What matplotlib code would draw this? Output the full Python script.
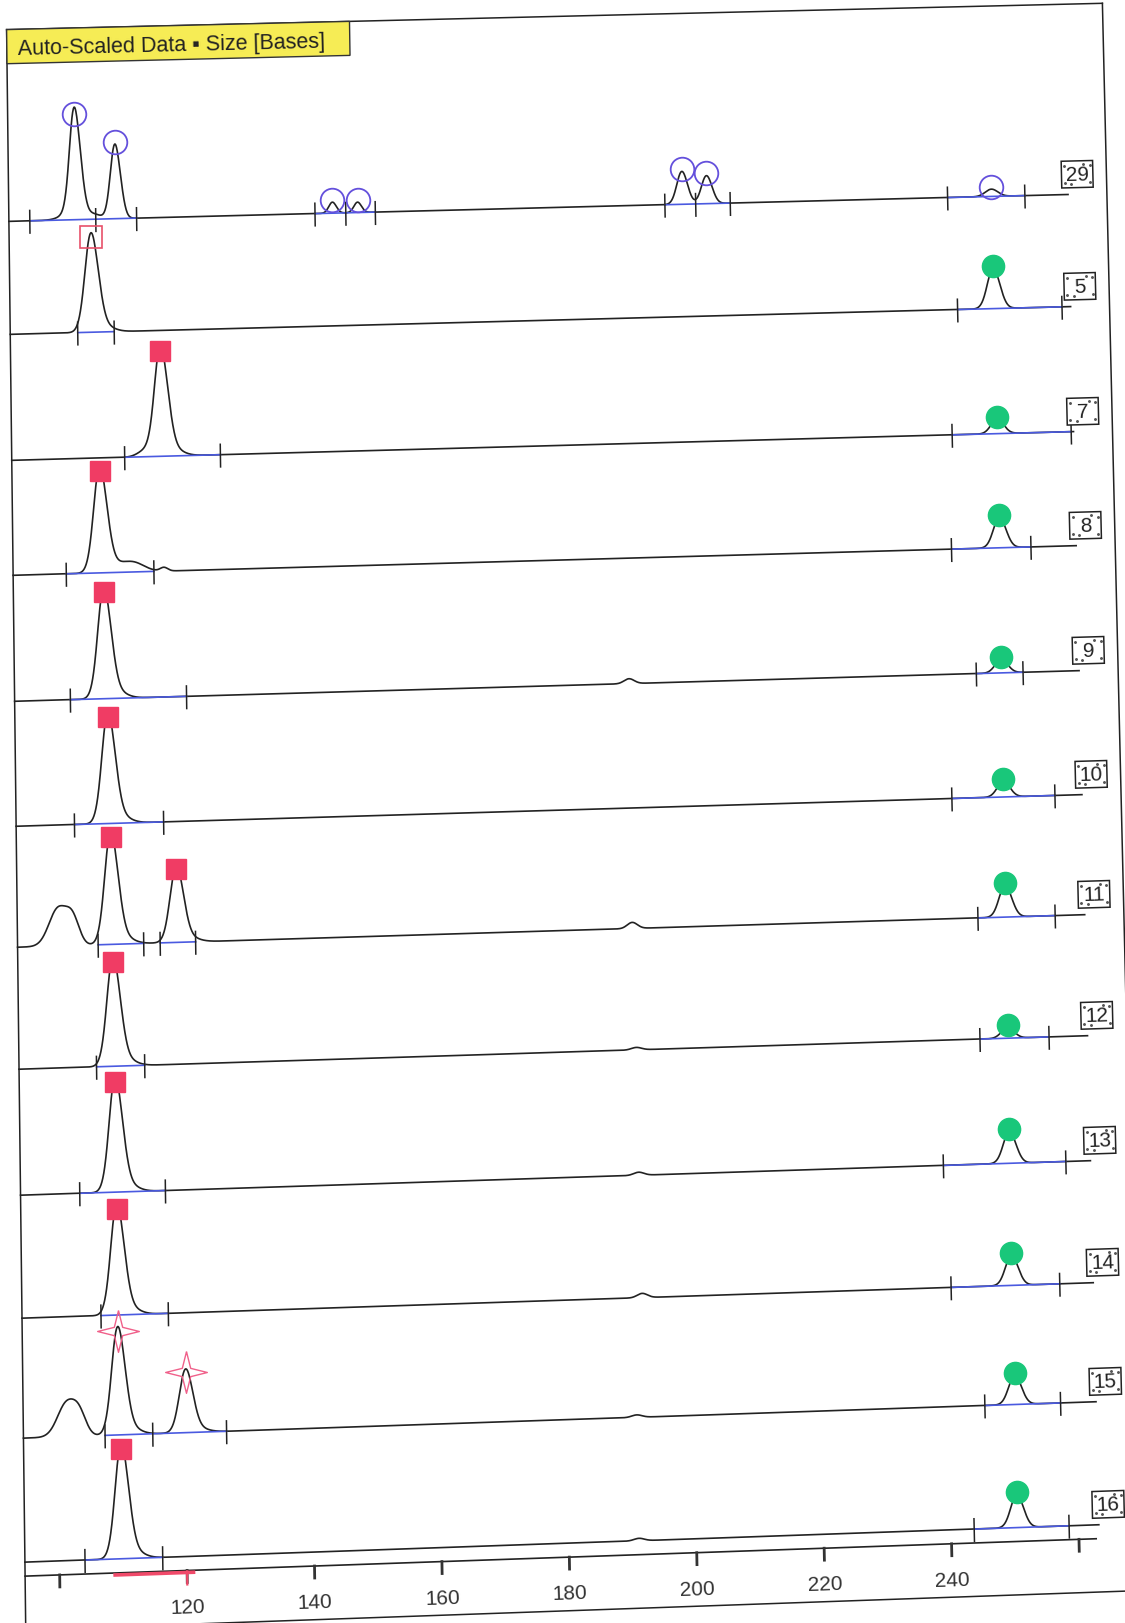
import numpy as np
import matplotlib
matplotlib.use('Agg')
import matplotlib.pyplot as plt
import matplotlib.transforms as mtransforms
from matplotlib.patches import Rectangle
from matplotlib.path import Path

W, H = 1125, 1624

# ---------------- data (sizes in bases, heights as fraction of lane spacing) ----------------
lane_labels = ["29", "5", "7", "8", "9", "10", "11", "12", "13", "14", "15", "16"]

# lane "29" = size standard, blue open circles
std_sizes = [105.2, 111.6, 146.1, 150.1, 201.8, 205.7, 251.0]
std_heights = [0.84, 0.61, 0.09, 0.085, 0.27, 0.23, 0.06]
std_widths = [0.85, 0.8, 0.6, 0.6, 0.85, 0.85, 1.0]

# red allele peaks per lane (lane 0 has none)
red_sizes = [[], [107.6], [118.4], [108.5], [108.9], [109.3], [109.5, 119.8],
             [109.6], [109.7], [109.7], [109.6, 120.2], [109.9]]
red_heights = [[], [0.78], [0.86], [0.83], [0.87], [0.87], [0.88, 0.60],
               [0.855], [0.90], [0.87], [0.85, 0.50], [0.90]]
red_style = ["", "open", "fill", "fill", "fill", "fill", "fill",
             "fill", "fill", "fill", "star", "fill"]

# green peaks near 250 bases
green_sizes = [None, 251.0, 251.1, 251.1, 250.9, 250.8, 250.7, 250.6, 250.5, 250.4, 250.5, 250.4]
green_heights = [None, 0.33, 0.12, 0.25, 0.11, 0.127, 0.26, 0.086, 0.26, 0.245, 0.24, 0.27]

# peak-window tick groups per lane
tick_groups = [
    [[97.9, 108.4, 114.9], [143.3, 148.2, 152.9], [199.0, 203.9, 209.4], [244.0, 256.3]],
    [[105.3, 111.1], [245.2, 261.8]],
    [[112.5, 127.7], [243.9, 262.8]],
    [[103.0, 116.9], [243.4, 256.0]],
    [[103.4, 121.8], [246.9, 254.3]],
    [[103.8, 117.9], [242.6, 258.9]],
    [[107.3, 114.5], [117.1, 122.7], [246.3, 258.5]],
    [[106.8, 114.4], [246.2, 257.1]],
    [[103.9, 117.4], [240.0, 259.3]],
    [[107.0, 117.6], [240.8, 257.9]],
    [[107.4, 114.9, 126.5], [245.7, 257.6]],
    [[104.0, 116.2], [243.6, 258.5]],
]

# minor features of each trace: (size, height, width)
lane_bumps = [
    [(105.2, 0.08, 1.8), (108.4, 0.025, 1.0)],
    [],
    [(115.8, 0.05, 1.2)],
    [(113.5, 0.08, 1.8), (118.5, 0.03, 0.6)],
    [(191.9, 0.04, 0.8)],
    [],
    [(101.1, 0.31, 1.5), (103.4, 0.18, 1.0), (191.7, 0.05, 0.8)],
    [(192.0, 0.02, 0.8)],
    [(192.0, 0.025, 0.8)],
    [(192.2, 0.035, 0.8)],
    [(101.5, 0.28, 1.5), (103.5, 0.13, 1.0), (191.0, 0.02, 0.8)],
    [(191.0, 0.02, 0.8)],
]

axis_ticks = [100, 120, 140, 160, 180, 200, 220, 240, 260]
axis_labels = ["", "120", "140", "160", "180", "200", "220", "240", ""]
bin_range = (108.7, 121.0)

# ---------------- layout of the printout ----------------
PX_PER_BASE = 6.37
X120 = 187.0
LANE_PX = 122.4
LANE0_ROW = 218.0
# pixel row of each lane baseline at the left edge of the sheet
lane_rows = [223, 336, 462, 577, 703, 828, 949, 1071, 1197, 1320, 1440, 1564]


def b_at(u):
    return 120 + (u - X120) / PX_PER_BASE


def y_at(v):
    return -(v - LANE0_ROW) / LANE_PX


class ScanWarp(mtransforms.Transform):
    """Skew / keystone of the scanned sheet (display pixels in, pixels out)."""
    input_dims = output_dims = 2
    is_separable = False
    has_inverse = False

    def transform_non_affine(self, values):
        vals = np.asarray(values, dtype=float)
        one = vals.ndim == 1
        vals = vals.reshape(-1, 2)
        u = vals[:, 0]
        v = H - vals[:, 1]
        kx = 0.0117 + 0.0113 * u / 1100.0
        s = 0.025 + 7.3e-6 * (v - 220.0)
        x = u + kx * (v - 1570.0)
        y = v - s * u
        out = np.column_stack([x, H - y])
        return out.reshape(-1) if one else out


def peak(x, mu, h, sig):
    return h * np.exp(-0.5 * ((x - mu) / sig) ** 2)


def slope_deg(v):
    return np.degrees(np.arctan(0.025 + 7.3e-6 * (v - 220.0)))


fig = plt.figure(figsize=(W / 100, H / 100), dpi=100)
ax = fig.add_axes([0, 0, 1, 1])
ax.set_axis_off()
ax.set_autoscale_on(False)
ax.set_xlim(b_at(0), b_at(W))
ax.set_ylim(y_at(H), y_at(0))
T = ax.transData + ScanWarp()

FONT = ['Liberation Sans', 'DejaVu Sans']
INK = '#222222'
BLUE = '#4a5ae0'
RED = '#f03c64'
GREEN = '#19c77a'

x_left = b_at(25)
x_end = 263.2
xs = np.arange(x_left, x_end, 0.04)

star = Path([(0, 1), (0.2, 0.2), (1, 0), (0.2, -0.2), (0, -1), (-0.2, -0.2),
             (-1, 0), (-0.2, 0.2), (0, 1)])

for i, lab in enumerate(lane_labels):
    base = y_at(lane_rows[i])
    ys = np.zeros_like(xs)
    if i == 0:
        for mu, h, sg in zip(std_sizes, std_heights, std_widths):
            ys += peak(xs, mu, h, sg)
    else:
        for mu, h in zip(red_sizes[i], red_heights[i]):
            ys += peak(xs, mu, h, 1.05) + peak(xs, mu + 1.6, 0.07 * h, 1.6)
        ys += peak(xs, green_sizes[i], green_heights[i], 1.0)
    for mu, h, sg in lane_bumps[i]:
        ys += peak(xs, mu, h, sg)

    ax.plot(xs, base + ys, color=INK, lw=1.2, transform=T, clip_on=False, zorder=2)

    for grp in tick_groups[i]:
        ax.plot([grp[0], grp[-1]], [base, base], color=BLUE, lw=1.2,
                transform=T, clip_on=False, zorder=3)
        for t in grp:
            ax.plot([t, t], [base + 0.085, base - 0.10], color=INK, lw=1.1,
                    transform=T, clip_on=False, zorder=4)

    # peak markers
    if i == 0:
        ax.plot(std_sizes, [base + h + 0.02 for h in std_heights], 'o', ms=17,
                mfc='none', mec='#6450dc', mew=1.3, transform=T, clip_on=False, zorder=5)
    else:
        px = red_sizes[i]
        py = [base + h for h in red_heights[i]]
        if red_style[i] == "open":
            ax.plot(px, py, 's', ms=16, mfc='none', mec='#e8506a', mew=1.2,
                    transform=T, clip_on=False, zorder=5)
        elif red_style[i] == "star":
            ax.plot(px, py, marker=star, ls='none', ms=30, mfc='none', mec='#f0608a',
                    mew=1.0, transform=T, clip_on=False, zorder=5)
        else:
            ax.plot(px, py, 's', ms=15, color=RED, mec=RED, transform=T,
                    clip_on=False, zorder=5)
        ax.plot([green_sizes[i]], [base + green_heights[i] + 0.02], 'o', ms=16,
                color=GREEN, mec=GREEN, transform=T, clip_on=False, zorder=5)

    # lane number box (stippled, as in the printout)
    bx, by = 264.7, base + 0.165
    ax.add_patch(Rectangle((bx - 2.5, by - 0.11), 5.0, 0.22, fc='white', ec=INK,
                           lw=1.1, transform=T, clip_on=False, zorder=4))
    ax.plot([bx - 2.0, bx - 2.0, bx + 2.0, bx + 2.0, bx - 1.0, bx + 1.0],
            [by + 0.07, by - 0.07, by + 0.07, by - 0.07, by - 0.08, by + 0.08],
            ls='none', marker='.', ms=2.2, color='#555555', transform=T,
            clip_on=False, zorder=5)
    ax.text(bx, by, lab, ha='center', va='center', fontsize=15, family=FONT,
            color=INK, rotation=slope_deg(lane_rows[i]), rotation_mode='anchor',
            transform=T, zorder=6)

# ---------------- size axis ----------------
y_axis = y_at(1578)
ax.plot([x_left, 262.7], [y_axis, y_axis], color=INK, lw=1.2, transform=T, clip_on=False)
for t, lab in zip(axis_ticks, axis_labels):
    ax.plot([t, t], [y_axis, y_at(1590)], color='#333333', lw=2.0, transform=T, clip_on=False)
    if lab:
        ax.text(t, y_at(1614), lab, ha='center', va='center', fontsize=15, family=FONT,
                color='#333333', rotation=slope_deg(1613), rotation_mode='anchor', transform=T)
ax.plot(list(bin_range), [y_at(1580)] * 2, color='#f04a6a', lw=2.6, transform=T,
        clip_on=False, zorder=5)
ax.plot([120, 120], [y_at(1579), y_at(1592)], color='#f04a6a', lw=1.6, transform=T,
        clip_on=False, zorder=6)

# ---------------- frame and header ----------------
top, right, bottom = y_at(31.2), b_at(1138.4), y_at(1631.8)
ax.plot([x_left, x_left], [top, y_at(1700)], color=INK, lw=1.1, transform=T, clip_on=False)
ax.plot([x_left, right], [top, top], color=INK, lw=1.1, transform=T, clip_on=False)
ax.plot([right, right], [top, y_at(1700)], color=INK, lw=1.1, transform=T, clip_on=False)
ax.plot([x_left, b_at(1300)], [bottom, bottom], color=INK, lw=1.1, transform=T, clip_on=False)

ax.add_patch(Rectangle((x_left, y_at(65.3)), b_at(373.4) - x_left, top - y_at(65.3),
                       fc='#f6ec55', ec='#333333', lw=1.0, transform=T, clip_on=False, zorder=3))
ax.text(b_at(36.5), y_at(55.5), "Auto-Scaled Data \u25aa Size [Bases]", ha='left',
        va='baseline', fontsize=15.5, family=FONT, color='#222222',
        rotation=slope_deg(50), rotation_mode='anchor', transform=T, zorder=6)

fig.savefig("out.png", dpi=100, facecolor='white')
